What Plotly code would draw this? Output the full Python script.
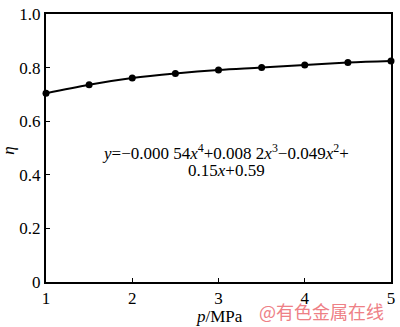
import plotly.graph_objects as go

p_vals = [1, 1.5, 2, 2.5, 3, 3.5, 4, 4.5, 5]
eta_vals = [0.704, 0.736, 0.761, 0.778, 0.791, 0.800, 0.810, 0.819, 0.825]
x_ticks = [1, 2, 3, 4, 5]
y_ticks = [0, 0.2, 0.4, 0.6, 0.8, 1.0]
y_tick_text = ["0", "0.2", "0.4", "0.6", "0.8", "1.0"]
eq_line1 = "<i>y</i>=−0.000 54<i>x</i><sup>4</sup>+0.008 2<i>x</i><sup>3</sup>−0.049<i>x</i><sup>2</sup>+"
eq_line2 = "0.15<i>x</i>+0.59"

font = "Liberation Serif, Times New Roman, serif"

fig = go.Figure()
fig.add_trace(go.Scatter(
    x=p_vals, y=eta_vals, mode="lines+markers",
    line=dict(color="black", width=2, shape="spline"),
    marker=dict(color="black", size=7),
    cliponaxis=False, showlegend=False))

fig.update_layout(
    width=400, height=327,
    margin=dict(l=46, r=5, t=6, b=45),
    paper_bgcolor="white", plot_bgcolor="white",
    font=dict(family=font, size=17, color="black"),
    xaxis=dict(range=[1, 5], tickvals=x_ticks, ticks="inside", ticklen=4,
               tickcolor="black", showline=True, linecolor="black", linewidth=2,
               mirror=True, showgrid=False, zeroline=False,
               ticklabeloverflow="allow", tickfont=dict(size=17)),
    yaxis=dict(range=[0, 1.0], tickvals=y_ticks, ticktext=y_tick_text,
               ticks="inside", ticklen=4, tickcolor="black", showline=True,
               linecolor="black", linewidth=2, mirror=True, showgrid=False,
               zeroline=False, ticklabeloverflow="allow",
               tickfont=dict(size=17)),
)

fig.add_annotation(xref="paper", yref="paper", x=-0.107, y=0.49,
                   xanchor="center", yanchor="middle",
                   text="<i>η</i>", showarrow=False, textangle=-90,
                   font=dict(size=17))
fig.add_annotation(xref="paper", yref="paper", x=0.578, y=-0.13,
                   xanchor="right", yanchor="middle",
                   text="<i>p</i>/MPa", showarrow=False, font=dict(size=17))
fig.add_annotation(xref="paper", yref="paper", x=0.985, y=-0.109,
                   xanchor="right", yanchor="middle",
                   text="@有色金属在线", showarrow=False,
                   font=dict(size=18, color="#ee8086",
                             family="Noto Sans CJK SC"))
fig.add_annotation(xref="x", yref="y", x=3.086, y=0.486,
                   xanchor="center", yanchor="middle",
                   text=eq_line1, showarrow=False, font=dict(size=17))
fig.add_annotation(xref="x", yref="y", x=3.09, y=0.417,
                   xanchor="center", yanchor="middle",
                   text=eq_line2, showarrow=False, font=dict(size=17))

fig.write_html("out.html")
